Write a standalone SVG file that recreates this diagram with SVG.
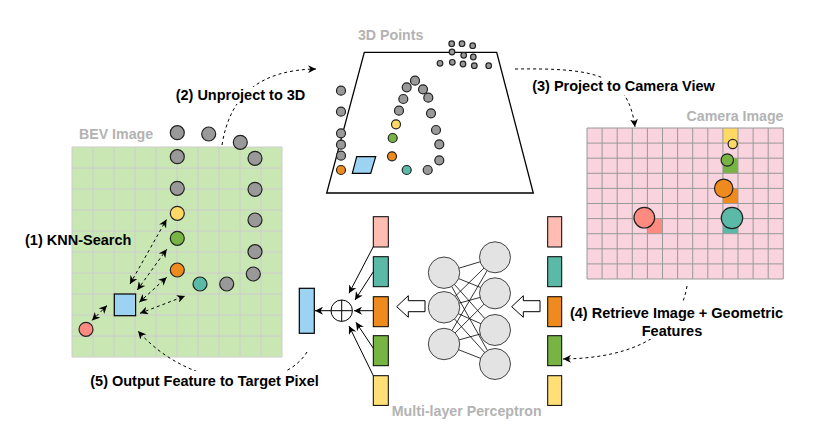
<svg xmlns="http://www.w3.org/2000/svg" width="819" height="429" viewBox="0 0 819 429">
  <defs>
    <marker id="arr" viewBox="0 0 10 10" refX="10" refY="5" markerWidth="8" markerHeight="8" markerUnits="userSpaceOnUse" orient="auto-start-reverse">
      <path d="M0,0 L10,5 L0,10 L3,5 Z" fill="#000"/>
    </marker>
    <style>
      .lbl{font-family:"Liberation Sans",Arial,sans-serif;font-weight:bold;font-size:14.5px;fill:#000}
      .ttl{font-family:"Liberation Sans",Arial,sans-serif;font-weight:bold;font-size:14.2px;fill:#b3b3b3}
      .dash{fill:none;stroke:#000;stroke-width:1;stroke-dasharray:3 3}
      .solid{fill:none;stroke:#000;stroke-width:1}
      .pt{stroke:#222;stroke-width:1.2}
      .gray{fill:#999}
      .yel{fill:#ffd966}
      .grn{fill:#78b444}
      .org{fill:#ef8a1f}
      .teal{fill:#5ab9a7}
      .pink{fill:#ff8a80}
      .blue{fill:#9dd3f2;stroke:#000;stroke-width:1.2}
      .bar{stroke:#000;stroke-width:1}
      .neuron{fill:#e3e3e3;stroke:#444;stroke-width:1}
      .bg{fill:#fff}
    </style>
  </defs>

  <rect width="819" height="429" fill="#fff"/>

  <!-- BEV image grid -->
  <g id="bev-image">
    <rect x="72" y="147" width="210" height="210" fill="#c9e7b3"/>
    <path d="M72,147V357M93,147V357M114,147V357M135,147V357M156,147V357M177,147V357M198,147V357M219,147V357M240,147V357M261,147V357M282,147V357M72,147H282M72,168H282M72,189H282M72,210H282M72,231H282M72,252H282M72,273H282M72,294H282M72,315H282M72,336H282M72,357H282" stroke="#cccccc" stroke-width="1" fill="none"/>
    <text class="ttl" x="79" y="139">BEV Image</text>
    <g id="bev-points">
      <circle class="pt gray" cx="177.3" cy="132.7" r="7"/>
      <circle class="pt gray" cx="208.7" cy="134" r="7"/>
      <circle class="pt gray" cx="240.3" cy="142.3" r="7"/>
      <circle class="pt gray" cx="177.3" cy="156.7" r="7"/>
      <circle class="pt gray" cx="255" cy="158.3" r="7"/>
      <circle class="pt gray" cx="177.3" cy="188.3" r="7"/>
      <circle class="pt gray" cx="255" cy="189.3" r="7"/>
      <circle class="pt yel" cx="177.3" cy="213.3" r="7"/>
      <circle class="pt gray" cx="255" cy="220" r="7"/>
      <circle class="pt grn" cx="177.3" cy="238.3" r="7"/>
      <circle class="pt gray" cx="255" cy="251.7" r="7"/>
      <circle class="pt org" cx="177.3" cy="270" r="7"/>
      <circle class="pt gray" cx="253.3" cy="274" r="7"/>
      <circle class="pt teal" cx="200" cy="284" r="7"/>
      <circle class="pt gray" cx="226.7" cy="284" r="7"/>
      <circle class="pt pink" cx="86" cy="329.3" r="7"/>
    </g>
    <rect id="target-pixel" class="blue" x="114.3" y="294" width="21.3" height="21.7"/>
  </g>

  <!-- 3D point view -->
  <g id="points-3d">
    <polygon points="364.3,52.3 496.7,52.3 533.3,193 326.7,193" fill="#fff" stroke="#000" stroke-width="1.3"/>
    <text class="ttl" x="390.7" y="39.5" text-anchor="middle">3D Points</text>
    <circle class="pt gray" cx="341" cy="90.7" r="4.5"/>
    <circle class="pt gray" cx="341" cy="111.7" r="4.5"/>
    <circle class="pt gray" cx="341" cy="133.3" r="4.5"/>
    <circle class="pt gray" cx="341" cy="144.7" r="4.5"/>
    <circle class="pt gray" cx="341" cy="155.7" r="4.5"/>
    <circle class="pt org" cx="341" cy="170" r="4.5"/>
    <polygon class="blue" points="356.7,156.7 375.7,156.7 370.7,173.3 352.3,173.3"/>
    <circle class="pt gray" cx="415" cy="80.7" r="4.5"/>
    <circle class="pt gray" cx="406.7" cy="87.3" r="4.5"/>
    <circle class="pt gray" cx="423" cy="89.3" r="4.5"/>
    <circle class="pt gray" cx="403.3" cy="99" r="4.5"/>
    <circle class="pt gray" cx="428.3" cy="97.7" r="4.5"/>
    <circle class="pt gray" cx="399" cy="110.7" r="4.5"/>
    <circle class="pt gray" cx="431" cy="113.3" r="4.5"/>
    <circle class="pt yel" cx="396" cy="124.3" r="4.5"/>
    <circle class="pt gray" cx="436" cy="130" r="4.5"/>
    <circle class="pt grn" cx="392.7" cy="138" r="4.5"/>
    <circle class="pt gray" cx="439.3" cy="144.3" r="4.5"/>
    <circle class="pt org" cx="392" cy="156.3" r="4.5"/>
    <circle class="pt gray" cx="439.3" cy="160.3" r="4.5"/>
    <circle class="pt teal" cx="406.7" cy="170" r="4.5"/>
    <circle class="pt gray" cx="427.7" cy="170" r="4.5"/>
    <g id="far-points">
      <circle class="pt gray" cx="451.7" cy="43.7" r="2.8"/>
      <circle class="pt gray" cx="462" cy="43.7" r="2.8"/>
      <circle class="pt gray" cx="472.7" cy="45.7" r="2.8"/>
      <circle class="pt gray" cx="452" cy="52" r="2.8"/>
      <circle class="pt gray" cx="463.7" cy="55.3" r="2.8"/>
      <circle class="pt gray" cx="473.3" cy="57" r="2.8"/>
      <circle class="pt gray" cx="440" cy="63.3" r="2.8"/>
      <circle class="pt gray" cx="452.3" cy="62.3" r="2.8"/>
      <circle class="pt gray" cx="463" cy="64" r="2.8"/>
      <circle class="pt gray" cx="474.3" cy="65.7" r="2.8"/>
      <circle class="pt gray" cx="488.7" cy="65.7" r="2.8"/>
    </g>
  </g>

  <!-- camera image grid -->
  <g id="camera-image">
    <rect x="587" y="128" width="196.3" height="151" fill="#f9d3dd"/>
    <rect class="yel" x="722.9" y="128" width="15.1" height="15.1"/>
    <rect class="grn" x="722.9" y="158.2" width="15.1" height="15.1"/>
    <rect class="org" x="722.9" y="188.4" width="15.1" height="15.1"/>
    <rect class="teal" x="722.9" y="218.6" width="15.1" height="15.1"/>
    <rect class="pink" x="647.4" y="218.6" width="15.1" height="15.1"/>
    <path d="M587,128V279M602.1,128V279M617.2,128V279M632.3,128V279M647.4,128V279M662.5,128V279M677.6,128V279M692.7,128V279M707.8,128V279M722.9,128V279M738,128V279M753.1,128V279M768.2,128V279M783.3,128V279M587,128H783.3M587,143.1H783.3M587,158.2H783.3M587,173.3H783.3M587,188.4H783.3M587,203.5H783.3M587,218.6H783.3M587,233.7H783.3M587,248.8H783.3M587,263.9H783.3M587,279H783.3" stroke="#999" stroke-width="1" fill="none"/>
    <circle class="pt yel" cx="732.7" cy="144" r="4.6"/>
    <circle class="pt grn" cx="727.3" cy="160" r="6.2"/>
    <circle class="pt org" cx="723.7" cy="188.3" r="9.2"/>
    <circle class="pt teal" cx="732" cy="218" r="10.7"/>
    <circle class="pt pink" cx="644.3" cy="217.7" r="10.3"/>
    <text class="ttl" x="783.5" y="120.5" text-anchor="end">Camera Image</text>
  </g>

  <!-- feature vectors fed into the MLP -->
  <g id="input-features">
    <rect class="bar" x="547.7" y="216.7" width="14" height="30.3" fill="#ffbcb3"/>
    <rect class="bar" x="547.7" y="256.7" width="14" height="30" fill="#5ab9a7"/>
    <rect class="bar" x="547.7" y="296.7" width="14" height="30" fill="#ef8a1f"/>
    <rect class="bar" x="547.7" y="335.7" width="14" height="30" fill="#78b444"/>
    <rect class="bar" x="547.7" y="375.7" width="14" height="29.7" fill="#ffdf76"/>
  </g>

  <!-- per-point features after the MLP -->
  <g id="output-features">
    <rect class="bar" x="373.3" y="216.7" width="15" height="30.3" fill="#ffbcb3"/>
    <rect class="bar" x="373.3" y="256.7" width="15" height="30" fill="#5ab9a7"/>
    <rect class="bar" x="373.3" y="296.7" width="15" height="30" fill="#ef8a1f"/>
    <rect class="bar" x="373.3" y="335.7" width="15" height="30" fill="#78b444"/>
    <rect class="bar" x="373.3" y="375.7" width="15" height="29.7" fill="#ffdf76"/>
  </g>

  <g id="sum-node">
    <circle cx="341.7" cy="310.7" r="10.7" fill="#fff" stroke="#000" stroke-width="1"/>
    <path d="M331,310.7H352.4M341.7,300V321.4" stroke="#000" stroke-width="1"/>
  </g>

  <rect id="pixel-feature" class="blue" x="299.3" y="288.3" width="15" height="45" stroke-width="1"/>

  <!-- multi-layer perceptron -->
  <g id="mlp">
    <path d="M444,272.7L495,257.3M444,272.7L495,293.3M444,272.7L495,330M444,272.7L495,364M444,307.3L495,257.3M444,307.3L495,293.3M444,307.3L495,330M444,307.3L495,364M444,344L495,257.3M444,344L495,293.3M444,344L495,330M444,344L495,364" stroke="#000" stroke-width="0.8" fill="none"/>
    <circle class="neuron" cx="444" cy="272.7" r="15.7"/>
    <circle class="neuron" cx="444" cy="307.3" r="15.7"/>
    <circle class="neuron" cx="444" cy="344" r="15.7"/>
    <circle class="neuron" cx="495" cy="257.3" r="15.5"/>
    <circle class="neuron" cx="495" cy="293.3" r="15.5"/>
    <circle class="neuron" cx="495" cy="330" r="15.5"/>
    <circle class="neuron" cx="495" cy="364" r="15.5"/>
    <text class="ttl" x="466.7" y="416" text-anchor="middle">Multi-layer Perceptron</text>
  </g>

  <!-- hollow flow arrows -->
  <g id="flow-arrows" fill="#fff" stroke="#000" stroke-width="1">
    <polygon points="396.7,306.7 408.3,295.7 408.3,300.7 425,300.7 425,311.7 408.3,311.7 408.3,317.3"/>
    <polygon points="511.7,306.7 523.3,295.7 523.3,300.7 540,300.7 540,311.7 523.3,311.7 523.3,317.3"/>
  </g>

  <!-- connectors -->
  <g id="connectors">
    <g id="knn-links" class="dash" marker-start="url(#arr)" marker-end="url(#arr)">
      <path d="M130,284 L166.5,219.5"/>
      <path d="M137.3,290 L166.7,249.3"/>
      <path d="M139.3,302.3 L166.7,277.3"/>
      <path d="M140,313.3 L185,296"/>
      <path d="M107,305.5 L92,320.5"/>
    </g>
    <g id="sum-links" class="solid" marker-end="url(#arr)">
      <path d="M373.3,246.7 L349,293.3"/>
      <path d="M373.3,271.7 L355,300"/>
      <path d="M373.3,310.7 L354,310.7"/>
      <path d="M373.3,348.3 L356,322.3"/>
      <path d="M373.3,375.7 L349,326"/>
      <path d="M331,310.7 L315,310.7"/>
    </g>
    <path id="unproject" class="dash" marker-end="url(#arr)" d="M222,145 C230,95 260,70 316,69"/>
    <path id="project" class="dash" marker-end="url(#arr)" d="M515,69 C595,68 628,74 635,127"/>
    <path id="retrieve" class="dash" marker-end="url(#arr)" d="M687,286 C680,330 640,358 563,359"/>
    <path id="output" class="dash" marker-end="url(#arr)" d="M307,352 C280,395 190,390 138,331"/>
  </g>

  <!-- step labels -->
  <g id="labels">
    <text class="lbl" x="25" y="245">(1) KNN-Search</text>
    <rect class="bg" x="174" y="87" width="134" height="17"/>
    <text class="lbl" x="240.5" y="100" text-anchor="middle">(2) Unproject to 3D</text>
    <rect class="bg" x="528" y="78" width="192" height="17"/>
    <text class="lbl" x="623.5" y="91" text-anchor="middle">(3) Project to Camera View</text>
    <rect class="bg" x="566" y="303" width="222" height="36"/>
    <text class="lbl" x="676.5" y="317.5" text-anchor="middle">(4) Retrieve Image + Geometric</text>
    <text class="lbl" x="672" y="335.5" text-anchor="middle">Features</text>
    <rect class="bg" x="86" y="371" width="238" height="18"/>
    <text class="lbl" x="204.5" y="385.5" text-anchor="middle">(5) Output Feature to Target Pixel</text>
  </g>
</svg>
